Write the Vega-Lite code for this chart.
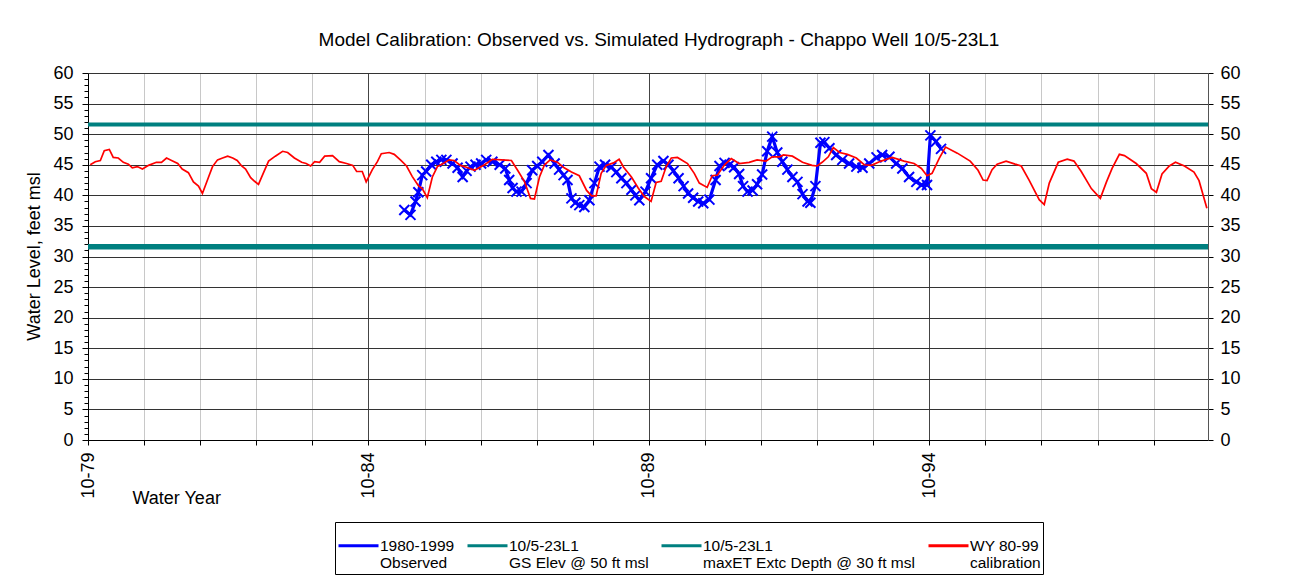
{
  "$schema": "https://vega.github.io/schema/vega-lite/v6.json",
  "width": 1120,
  "height": 367,
  "autosize": {"type": "none"},
  "padding": {"left": 88, "top": 73, "right": 99, "bottom": 140},
  "background": "white",
  "title": {
    "text": "Model Calibration: Observed vs. Simulated Hydrograph - Chappo Well 10/5-23L1",
    "fontSize": 19,
    "fontWeight": "normal",
    "font": "Liberation Sans",
    "color": "black",
    "offset": 14,
    "dx": 11
  },
  "config": {
    "font": "Liberation Sans",
    "view": {"stroke": null},
    "axis": {
      "labelFont": "Liberation Sans",
      "titleFont": "Liberation Sans",
      "labelColor": "black",
      "titleColor": "black",
      "titleFontWeight": "normal",
      "labelFontSize": 18,
      "titleFontSize": 18,
      "domainColor": "black",
      "tickColor": "black",
      "labelFlush": false,
      "labelOverlap": false
    },
    "legend": {"labelFont": "Liberation Sans"}
  },
  "datasets": {
    "observed": [
      {"t": 1985.39, "v": 37.6}, {"t": 1985.50, "v": 36.8}, {"t": 1985.59, "v": 39.0}, {"t": 1985.64, "v": 40.5},
      {"t": 1985.71, "v": 43.3}, {"t": 1985.78, "v": 43.9}, {"t": 1985.87, "v": 45.0}, {"t": 1985.96, "v": 45.5},
      {"t": 1986.05, "v": 45.8}, {"t": 1986.14, "v": 45.8}, {"t": 1986.25, "v": 45.2}, {"t": 1986.34, "v": 44.5},
      {"t": 1986.43, "v": 43.0}, {"t": 1986.50, "v": 44.0}, {"t": 1986.57, "v": 44.7}, {"t": 1986.66, "v": 45.0},
      {"t": 1986.76, "v": 45.2}, {"t": 1986.85, "v": 45.8}, {"t": 1986.96, "v": 45.5}, {"t": 1987.09, "v": 45.0},
      {"t": 1987.19, "v": 44.4}, {"t": 1987.26, "v": 42.5}, {"t": 1987.32, "v": 41.2}, {"t": 1987.39, "v": 40.6},
      {"t": 1987.48, "v": 40.6}, {"t": 1987.57, "v": 42.0}, {"t": 1987.67, "v": 44.1}, {"t": 1987.76, "v": 44.8},
      {"t": 1987.85, "v": 45.5}, {"t": 1987.96, "v": 46.6}, {"t": 1988.07, "v": 45.2}, {"t": 1988.15, "v": 44.2},
      {"t": 1988.23, "v": 43.3}, {"t": 1988.30, "v": 42.5}, {"t": 1988.37, "v": 39.5}, {"t": 1988.44, "v": 38.8},
      {"t": 1988.51, "v": 38.4}, {"t": 1988.60, "v": 38.1}, {"t": 1988.69, "v": 39.2}, {"t": 1988.78, "v": 42.0},
      {"t": 1988.87, "v": 44.7}, {"t": 1988.97, "v": 45.0}, {"t": 1989.08, "v": 44.6}, {"t": 1989.17, "v": 43.8},
      {"t": 1989.26, "v": 42.8}, {"t": 1989.35, "v": 42.0}, {"t": 1989.44, "v": 40.9}, {"t": 1989.51, "v": 40.0},
      {"t": 1989.58, "v": 39.2}, {"t": 1989.69, "v": 40.6}, {"t": 1989.79, "v": 42.8}, {"t": 1989.90, "v": 45.0},
      {"t": 1990.01, "v": 45.6}, {"t": 1990.10, "v": 45.0}, {"t": 1990.19, "v": 44.0}, {"t": 1990.28, "v": 42.8},
      {"t": 1990.37, "v": 41.5}, {"t": 1990.45, "v": 40.3}, {"t": 1990.54, "v": 39.6}, {"t": 1990.63, "v": 39.0},
      {"t": 1990.72, "v": 38.7}, {"t": 1990.83, "v": 39.3}, {"t": 1990.94, "v": 42.5}, {"t": 1991.01, "v": 44.8},
      {"t": 1991.10, "v": 45.3}, {"t": 1991.19, "v": 45.0}, {"t": 1991.27, "v": 44.6}, {"t": 1991.36, "v": 43.5},
      {"t": 1991.43, "v": 41.5}, {"t": 1991.51, "v": 40.6}, {"t": 1991.60, "v": 40.8}, {"t": 1991.68, "v": 41.8},
      {"t": 1991.77, "v": 43.4}, {"t": 1991.86, "v": 47.2}, {"t": 1991.95, "v": 49.6}, {"t": 1992.04, "v": 47.0},
      {"t": 1992.13, "v": 45.5}, {"t": 1992.22, "v": 44.2}, {"t": 1992.31, "v": 43.0}, {"t": 1992.40, "v": 42.2},
      {"t": 1992.49, "v": 40.2}, {"t": 1992.58, "v": 39.0}, {"t": 1992.63, "v": 38.8}, {"t": 1992.72, "v": 41.5},
      {"t": 1992.81, "v": 48.6}, {"t": 1992.88, "v": 48.7}, {"t": 1992.97, "v": 47.7}, {"t": 1993.09, "v": 46.6},
      {"t": 1993.20, "v": 45.8}, {"t": 1993.32, "v": 45.2}, {"t": 1993.45, "v": 44.7}, {"t": 1993.56, "v": 44.5},
      {"t": 1993.68, "v": 45.2}, {"t": 1993.81, "v": 46.2}, {"t": 1993.91, "v": 46.6}, {"t": 1994.04, "v": 46.3},
      {"t": 1994.16, "v": 45.2}, {"t": 1994.27, "v": 44.4}, {"t": 1994.39, "v": 43.0}, {"t": 1994.52, "v": 42.2},
      {"t": 1994.61, "v": 41.7}, {"t": 1994.71, "v": 41.7}, {"t": 1994.77, "v": 49.8}, {"t": 1994.87, "v": 48.8},
      {"t": 1994.96, "v": 47.6}
    ],
    "calibration": [
      {"t": 1979.79, "v": 45.0}, {"t": 1979.88, "v": 45.5}, {"t": 1979.97, "v": 45.7}, {"t": 1980.04, "v": 47.3},
      {"t": 1980.13, "v": 47.5}, {"t": 1980.20, "v": 46.2}, {"t": 1980.29, "v": 46.1}, {"t": 1980.38, "v": 45.4},
      {"t": 1980.47, "v": 45.1}, {"t": 1980.54, "v": 44.5}, {"t": 1980.63, "v": 44.7}, {"t": 1980.72, "v": 44.3},
      {"t": 1980.83, "v": 44.9}, {"t": 1980.97, "v": 45.4}, {"t": 1981.06, "v": 45.4}, {"t": 1981.15, "v": 46.1},
      {"t": 1981.24, "v": 45.7}, {"t": 1981.35, "v": 45.2}, {"t": 1981.43, "v": 44.3}, {"t": 1981.54, "v": 43.7},
      {"t": 1981.63, "v": 42.2}, {"t": 1981.72, "v": 41.5}, {"t": 1981.79, "v": 40.3}, {"t": 1981.90, "v": 43.0},
      {"t": 1981.97, "v": 44.7}, {"t": 1982.06, "v": 45.8}, {"t": 1982.15, "v": 46.1}, {"t": 1982.24, "v": 46.4},
      {"t": 1982.33, "v": 46.1}, {"t": 1982.41, "v": 45.7}, {"t": 1982.49, "v": 44.8}, {"t": 1982.56, "v": 44.3},
      {"t": 1982.65, "v": 42.9}, {"t": 1982.72, "v": 42.3}, {"t": 1982.79, "v": 41.8}, {"t": 1982.88, "v": 43.7},
      {"t": 1982.97, "v": 45.6}, {"t": 1983.09, "v": 46.4}, {"t": 1983.22, "v": 47.2}, {"t": 1983.31, "v": 47.0},
      {"t": 1983.43, "v": 46.1}, {"t": 1983.56, "v": 45.4}, {"t": 1983.64, "v": 45.2}, {"t": 1983.72, "v": 44.8},
      {"t": 1983.79, "v": 45.5}, {"t": 1983.88, "v": 45.4}, {"t": 1983.97, "v": 46.4}, {"t": 1984.11, "v": 46.5},
      {"t": 1984.23, "v": 45.5}, {"t": 1984.36, "v": 45.2}, {"t": 1984.47, "v": 44.9}, {"t": 1984.54, "v": 43.9},
      {"t": 1984.64, "v": 43.9}, {"t": 1984.71, "v": 42.2}, {"t": 1984.82, "v": 44.2}, {"t": 1984.91, "v": 45.5},
      {"t": 1984.98, "v": 46.8}, {"t": 1985.12, "v": 47.0}, {"t": 1985.21, "v": 46.7}, {"t": 1985.32, "v": 45.8},
      {"t": 1985.43, "v": 44.8}, {"t": 1985.53, "v": 43.1}, {"t": 1985.64, "v": 41.6}, {"t": 1985.71, "v": 41.1},
      {"t": 1985.80, "v": 39.6}, {"t": 1985.89, "v": 43.0}, {"t": 1985.98, "v": 44.7}, {"t": 1986.10, "v": 45.3},
      {"t": 1986.19, "v": 45.8}, {"t": 1986.28, "v": 45.7}, {"t": 1986.39, "v": 44.9}, {"t": 1986.50, "v": 44.6},
      {"t": 1986.64, "v": 44.1}, {"t": 1986.82, "v": 45.0}, {"t": 1986.96, "v": 45.9}, {"t": 1987.12, "v": 45.8},
      {"t": 1987.30, "v": 45.7}, {"t": 1987.41, "v": 44.1}, {"t": 1987.53, "v": 42.3}, {"t": 1987.64, "v": 39.5},
      {"t": 1987.71, "v": 39.4}, {"t": 1987.80, "v": 43.0}, {"t": 1987.89, "v": 45.0}, {"t": 1987.99, "v": 45.8},
      {"t": 1988.12, "v": 45.4}, {"t": 1988.24, "v": 44.5}, {"t": 1988.37, "v": 43.8}, {"t": 1988.51, "v": 43.2},
      {"t": 1988.64, "v": 40.8}, {"t": 1988.73, "v": 39.9}, {"t": 1988.81, "v": 39.9}, {"t": 1988.90, "v": 43.6},
      {"t": 1988.99, "v": 44.9}, {"t": 1989.12, "v": 45.3}, {"t": 1989.22, "v": 45.9}, {"t": 1989.30, "v": 44.6},
      {"t": 1989.44, "v": 43.0}, {"t": 1989.56, "v": 41.2}, {"t": 1989.67, "v": 39.8}, {"t": 1989.79, "v": 39.0},
      {"t": 1989.88, "v": 42.1}, {"t": 1989.97, "v": 42.3}, {"t": 1990.06, "v": 44.7}, {"t": 1990.15, "v": 46.1},
      {"t": 1990.26, "v": 46.2}, {"t": 1990.44, "v": 45.2}, {"t": 1990.56, "v": 43.6}, {"t": 1990.65, "v": 42.0},
      {"t": 1990.79, "v": 41.3}, {"t": 1990.88, "v": 43.2}, {"t": 1990.97, "v": 43.3}, {"t": 1991.10, "v": 45.0},
      {"t": 1991.22, "v": 46.0}, {"t": 1991.36, "v": 45.2}, {"t": 1991.54, "v": 45.4}, {"t": 1991.68, "v": 45.8},
      {"t": 1991.84, "v": 45.6}, {"t": 1991.95, "v": 46.3}, {"t": 1992.08, "v": 46.3}, {"t": 1992.15, "v": 46.6},
      {"t": 1992.31, "v": 46.4}, {"t": 1992.49, "v": 45.4}, {"t": 1992.66, "v": 44.9}, {"t": 1992.75, "v": 44.8},
      {"t": 1992.84, "v": 45.4}, {"t": 1992.95, "v": 46.3}, {"t": 1993.04, "v": 47.8}, {"t": 1993.15, "v": 47.0},
      {"t": 1993.29, "v": 46.7}, {"t": 1993.45, "v": 46.1}, {"t": 1993.59, "v": 45.0}, {"t": 1993.72, "v": 44.9},
      {"t": 1993.89, "v": 45.6}, {"t": 1994.09, "v": 46.2}, {"t": 1994.30, "v": 45.6}, {"t": 1994.48, "v": 45.2},
      {"t": 1994.61, "v": 44.4}, {"t": 1994.71, "v": 43.2}, {"t": 1994.80, "v": 43.6}, {"t": 1994.93, "v": 46.1},
      {"t": 1995.04, "v": 47.9}, {"t": 1995.25, "v": 46.9}, {"t": 1995.48, "v": 45.6}, {"t": 1995.62, "v": 44.1},
      {"t": 1995.71, "v": 42.5}, {"t": 1995.78, "v": 42.4}, {"t": 1995.87, "v": 44.2}, {"t": 1995.96, "v": 45.1},
      {"t": 1996.12, "v": 45.6}, {"t": 1996.28, "v": 45.1}, {"t": 1996.39, "v": 44.8}, {"t": 1996.53, "v": 42.5},
      {"t": 1996.71, "v": 39.3}, {"t": 1996.80, "v": 38.5}, {"t": 1996.89, "v": 42.0}, {"t": 1997.05, "v": 45.4},
      {"t": 1997.21, "v": 45.9}, {"t": 1997.33, "v": 45.6}, {"t": 1997.46, "v": 43.9}, {"t": 1997.64, "v": 41.1},
      {"t": 1997.80, "v": 39.5}, {"t": 1997.91, "v": 42.2}, {"t": 1998.01, "v": 44.4}, {"t": 1998.14, "v": 46.7},
      {"t": 1998.23, "v": 46.5}, {"t": 1998.44, "v": 45.2}, {"t": 1998.62, "v": 43.6}, {"t": 1998.71, "v": 41.1},
      {"t": 1998.80, "v": 40.5}, {"t": 1998.90, "v": 43.5}, {"t": 1999.03, "v": 44.8}, {"t": 1999.14, "v": 45.4},
      {"t": 1999.30, "v": 44.8}, {"t": 1999.47, "v": 43.8}, {"t": 1999.56, "v": 42.4}, {"t": 1999.70, "v": 37.9}
    ],
    "gs": [{"v": 51.6}],
    "maxet": [{"v": 31.6}]
  },
  "layer": [
    {
      "data": {"name": "gs"},
      "mark": {"type": "rule", "strokeWidth": 4},
      "encoding": {
        "y": {
          "field": "v", "type": "quantitative",
          "scale": {"domain": [0, 60], "nice": false},
          "axis": {
            "orient": "right",
            "values": [0, 5, 10, 15, 20, 25, 30, 35, 40, 45, 50, 55, 60],
            "tickSize": 5,
            "labelPadding": 7,
            "grid": false,
            "title": null,
            "domainColor": "#555555"
          }
        },
        "color": {
          "datum": "10/5-23L1\nGS Elev @ 50 ft msl", "type": "nominal",
          "scale": {
            "domain": ["1980-1999\nObserved", "10/5-23L1\nGS Elev @ 50 ft msl", "10/5-23L1\nmaxET Extc Depth @ 30 ft msl", "WY 80-99\ncalibration"],
            "range": ["#0000ff", "#008080", "#008080", "#ff0000"]
          },
          "legend": {
            "orient": "none",
            "legendX": 247,
            "legendY": 449,
            "direction": "horizontal",
            "columns": 4,
            "title": null,
            "strokeColor": "black",
            "fillColor": "white",
            "padding": 2,
            "labelFontSize": 15.5,
            "labelColor": "black",
            "labelLimit": 400,
            "labelOffset": 0,
            "columnPadding": 6,
            "symbolSize": 1600,
            "symbolType": "stroke",
            "symbolStrokeWidth": 3,
            "labelExpr": "split(datum.label, '\\n')"
          }
        }
      }
    },
    {
      "data": {"name": "maxet"},
      "mark": {"type": "rule", "strokeWidth": 5.5},
      "encoding": {
        "y": {"field": "v", "type": "quantitative", "scale": {"domain": [0, 60], "nice": false}, "axis": null},
        "color": {"datum": "10/5-23L1\nmaxET Extc Depth @ 30 ft msl", "type": "nominal"}
      }
    },
    {
      "data": {"name": "observed"},
      "mark": {"type": "line", "strokeWidth": 3.2},
      "encoding": {
        "x": {"field": "t", "type": "quantitative", "scale": {"domain": [1979.75, 1999.72], "nice": false, "zero": false}, "axis": null},
        "y": {"field": "v", "type": "quantitative", "scale": {"domain": [0, 60], "nice": false}, "axis": null},
        "color": {"datum": "1980-1999\nObserved", "type": "nominal"}
      }
    },
    {
      "data": {"name": "observed"},
      "mark": {"type": "point", "shape": "M-1,-1L1,1M-1,1L1,-1", "size": 100, "strokeWidth": 2, "filled": false, "opacity": 1},
      "encoding": {
        "x": {"field": "t", "type": "quantitative", "axis": null},
        "y": {"field": "v", "type": "quantitative", "axis": null},
        "color": {"datum": "1980-1999\nObserved", "type": "nominal"}
      }
    },
    {
      "data": {"name": "calibration"},
      "mark": {"type": "line", "strokeWidth": 1.7},
      "encoding": {
        "x": {
          "field": "t", "type": "quantitative",
          "scale": {"domain": [1979.75, 1999.72], "nice": false, "zero": false},
          "axis": {
            "values": [1979.75, 1980.75, 1981.75, 1982.75, 1983.75, 1984.75, 1985.75, 1986.75, 1987.75, 1988.75, 1989.75, 1990.75, 1991.75, 1992.75, 1993.75, 1994.75, 1995.75, 1996.75, 1997.75, 1998.75],
            "labelExpr": "datum.value == 1979.75 ? '10-79' : datum.value == 1984.75 ? '10-84' : datum.value == 1989.75 ? '10-89' : datum.value == 1994.75 ? '10-94' : ''",
            "labelAngle": 270,
            "labelPadding": 7,
            "tickSize": 5,
            "grid": true,
            "gridColor": {"condition": {"test": "datum.value == 1984.75 || datum.value == 1989.75 || datum.value == 1994.75", "value": "#444444"}, "value": "#c8c8c8"},
            "title": "Water Year",
            "titleAnchor": "start",
            "titleAlign": "left",
            "titleBaseline": "alphabetic",
            "titleX": 44,
            "titleY": 63
          }
        },
        "y": {
          "field": "v", "type": "quantitative",
          "scale": {"domain": [0, 60], "nice": false},
          "axis": {
            "orient": "left",
            "values": [0,1,2,3,4,5,6,7,8,9,10,11,12,13,14,15,16,17,18,19,20,21,22,23,24,25,26,27,28,29,30,31,32,33,34,35,36,37,38,39,40,41,42,43,44,45,46,47,48,49,50,51,52,53,54,55,56,57,58,59,60],
            "labelExpr": "datum.value % 5 === 0 ? datum.label : ''",
            "tickSize": {"condition": {"test": "datum.value % 5 === 0", "value": 6}, "value": 4},
            "labelPadding": 9,
            "grid": true,
            "gridColor": "#333333",
            "gridOpacity": {"condition": {"test": "datum.value % 5 === 0", "value": 1}, "value": 0},
            "title": "Water Level, feet msl",
            "titleAngle": 270,
            "titleAlign": "center",
            "titleBaseline": "middle",
            "titleX": -54,
            "titleY": 183
          }
        },
        "color": {"datum": "WY 80-99\ncalibration", "type": "nominal"}
      }
    }
  ],
  "resolve": {"axis": {"x": "independent", "y": "independent"}}
}
